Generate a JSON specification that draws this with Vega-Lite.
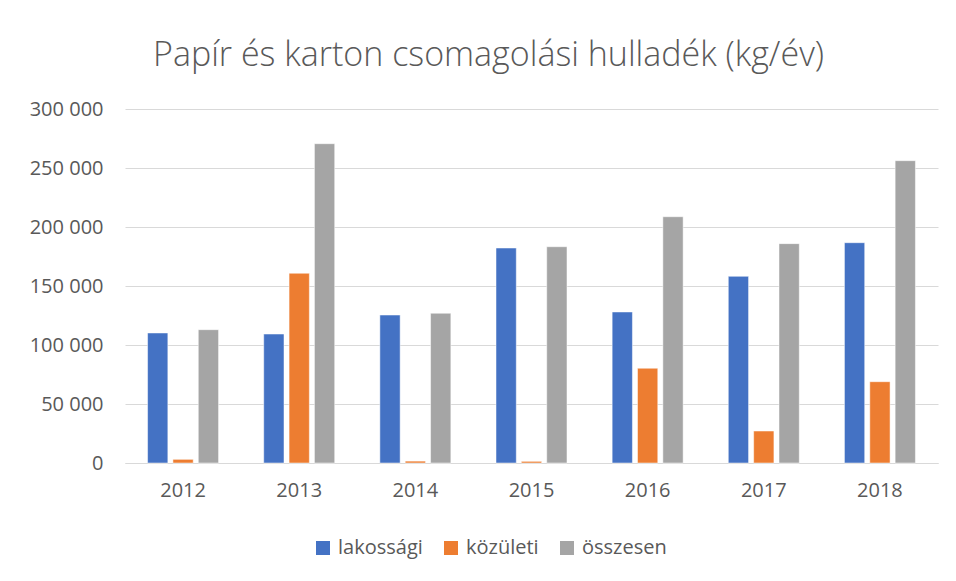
{
  "$schema": "https://vega.github.io/schema/vega-lite/v6.json",
  "width": 813,
  "height": 354,
  "autosize": {"type": "none"},
  "padding": {"left": 125, "top": 109, "right": 18, "bottom": 118},
  "background": "white",
  "config": {
    "font": "Open Sans",
    "view": {"stroke": null},
    "locale": {"number": {"decimal": ",", "thousands": " ", "grouping": [3], "currency": ["", " Ft"]}}
  },
  "title": {
    "text": "Papír és karton csomagolási hulladék (kg/év)",
    "font": "Open Sans",
    "fontSize": 34,
    "fontWeight": 300,
    "color": "#595959",
    "anchor": "middle",
    "dx": -43,
    "offset": 26
  },
  "data": {
    "values": [
      {"ev": "2012", "tipus": "lakossági", "ertek": 110200},
      {"ev": "2012", "tipus": "közületi", "ertek": 3100},
      {"ev": "2012", "tipus": "összesen", "ertek": 113000},
      {"ev": "2013", "tipus": "lakossági", "ertek": 109300},
      {"ev": "2013", "tipus": "közületi", "ertek": 160800},
      {"ev": "2013", "tipus": "összesen", "ertek": 270600},
      {"ev": "2014", "tipus": "lakossági", "ertek": 125400},
      {"ev": "2014", "tipus": "közületi", "ertek": 1600},
      {"ev": "2014", "tipus": "összesen", "ertek": 126900},
      {"ev": "2015", "tipus": "lakossági", "ertek": 182200},
      {"ev": "2015", "tipus": "közületi", "ertek": 1400},
      {"ev": "2015", "tipus": "összesen", "ertek": 183300},
      {"ev": "2016", "tipus": "lakossági", "ertek": 128000},
      {"ev": "2016", "tipus": "közületi", "ertek": 80300},
      {"ev": "2016", "tipus": "összesen", "ertek": 208700},
      {"ev": "2017", "tipus": "lakossági", "ertek": 158200},
      {"ev": "2017", "tipus": "közületi", "ertek": 27100},
      {"ev": "2017", "tipus": "összesen", "ertek": 185900},
      {"ev": "2018", "tipus": "lakossági", "ertek": 186700},
      {"ev": "2018", "tipus": "közületi", "ertek": 68900},
      {"ev": "2018", "tipus": "összesen", "ertek": 256200}
    ]
  },
  "mark": {"type": "bar", "stroke": "white", "strokeWidth": 0.5},
  "encoding": {
    "x": {
      "field": "ev",
      "type": "nominal",
      "scale": {"paddingInner": 0.38, "paddingOuter": 0.19},
      "axis": {
        "title": null,
        "labelAngle": 0,
        "labelFontSize": 20,
        "labelColor": "#595959",
        "labelPadding": 17,
        "ticks": false,
        "domainColor": "#d9d9d9",
        "domainWidth": 1,
        "grid": false
      }
    },
    "xOffset": {
      "field": "tipus",
      "type": "nominal",
      "sort": ["lakossági", "közületi", "összesen"],
      "scale": {"paddingInner": 0.2, "paddingOuter": 0.02}
    },
    "y": {
      "field": "ertek",
      "type": "quantitative",
      "scale": {"domain": [0, 300000], "nice": false},
      "axis": {
        "title": null,
        "values": [0, 50000, 100000, 150000, 200000, 250000, 300000],
        "format": ",d",
        "labelFontSize": 20,
        "labelColor": "#595959",
        "labelPadding": 22,
        "ticks": false,
        "domain": false,
        "gridColor": "#d9d9d9",
        "gridWidth": 1
      }
    },
    "color": {
      "field": "tipus",
      "type": "nominal",
      "sort": ["lakossági", "közületi", "összesen"],
      "scale": {"domain": ["lakossági", "közületi", "összesen"], "range": ["#4472C4", "#ED7D31", "#A5A5A5"]},
      "legend": {
        "title": null,
        "orient": "none",
        "direction": "horizontal",
        "legendX": 188,
        "legendY": 429,
        "symbolType": "square",
        "symbolSize": 196,
        "symbolStrokeWidth": 0,
        "labelFontSize": 20,
        "labelColor": "#595959",
        "labelOffset": 5,
        "columnPadding": 18
      }
    }
  }
}
